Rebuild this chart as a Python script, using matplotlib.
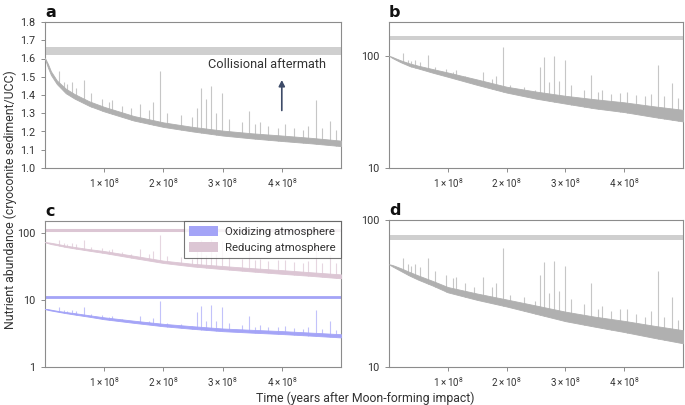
import numpy as np
import matplotlib
matplotlib.use("Agg")
import matplotlib.pyplot as plt
from matplotlib.ticker import FixedLocator, FixedFormatter, NullLocator
from matplotlib.patches import Patch

plt.rcParams['font.family'] = ['Roboto', 'DejaVu Sans']

# ---- data (time in units of 1e8 years) ----
band_t = [0, 0.05, 0.1, 0.2, 0.35, 0.5, 0.75, 1.0, 1.5, 2.0, 2.5, 3.0, 3.5, 4.0, 4.5, 5.0]

a_low = [1.598, 1.55, 1.51, 1.46, 1.41, 1.38, 1.34, 1.31, 1.26, 1.225, 1.20, 1.178, 1.162, 1.148, 1.135, 1.120]
a_high = [1.602, 1.57, 1.53, 1.48, 1.435, 1.405, 1.365, 1.335, 1.285, 1.25, 1.225, 1.205, 1.19, 1.178, 1.165, 1.150]

b_low = [100, 96, 93, 87.5, 81, 77, 70.5, 65, 55, 47, 41.5, 37.5, 34, 31.5, 28.5, 26]
b_high = [100, 98, 95.5, 91, 85.5, 81.5, 76, 71, 61.5, 53, 48, 44, 41, 38.5, 35.5, 33]

c_ox_low = [7.3, 7.1, 6.95, 6.7, 6.35, 6.05, 5.6, 5.15, 4.55, 4.05, 3.7, 3.42, 3.25, 3.1, 2.93, 2.76]
c_ox_high = [7.3, 7.3, 7.15, 6.9, 6.6, 6.35, 5.9, 5.5, 4.9, 4.4, 4.05, 3.75, 3.58, 3.43, 3.25, 3.08]
c_red_low = [72.6, 70, 68, 65.5, 61.5, 58.5, 54, 50, 42, 35.5, 31.5, 28.8, 26.5, 24.5, 22.8, 21]
c_red_high = [72.6, 72, 71, 68.5, 64.5, 61.5, 57, 53.5, 45.5, 38.5, 34.5, 32, 29.7, 27.8, 25.8, 24]

d_low = [50, 48.5, 47.3, 45, 41.8, 39.2, 35.7, 32.2, 28.6, 25.8, 23, 20.5, 18.8, 17.3, 15.8, 14.5]
d_high = [50, 49.5, 48.7, 47, 44.3, 41.9, 38.4, 35, 31.6, 28.8, 26.2, 23.8, 22, 20.6, 19.1, 17.8]

spike_t = [0.24, 0.32, 0.38, 0.45, 0.52, 0.66, 0.78, 0.97, 1.08, 1.14, 1.30, 1.45, 1.60, 1.75, 1.82,
           1.94, 2.06, 2.30, 2.48, 2.57, 2.64, 2.72, 2.80, 2.89, 2.99, 3.10, 3.32, 3.44, 3.55, 3.63,
           3.77, 3.93, 4.05, 4.20, 4.35, 4.45, 4.57, 4.68, 4.82, 4.92]
a_peak = [1.53, 1.47, 1.46, 1.47, 1.44, 1.48, 1.41, 1.38, 1.36, 1.37, 1.34, 1.33, 1.35, 1.32, 1.36,
          1.53, 1.30, 1.29, 1.28, 1.33, 1.44, 1.38, 1.45, 1.30, 1.41, 1.27, 1.25, 1.31, 1.24, 1.25,
          1.23, 1.22, 1.24, 1.22, 1.21, 1.23, 1.37, 1.22, 1.26, 1.21]
b_peak = [105, 92, 90, 92, 88, 102, 80, 76, 72, 74, 66, 62, 72, 62, 66,
          120, 55, 53, 50, 80, 97, 58, 99, 60, 92, 55, 50, 68, 48, 50,
          46, 47, 48, 45, 44, 46, 83, 44, 57, 42]
c_ox_peak = [7.9, 7.0, 6.9, 7.0, 6.8, 7.8, 6.2, 5.9, 5.6, 5.8, 5.2, 4.9, 5.7, 4.9, 5.3,
             9.6, 4.5, 4.3, 4.1, 6.6, 8.0, 4.8, 8.3, 4.9, 7.8, 4.6, 4.2, 5.8, 4.0, 4.2,
             3.9, 4.0, 4.1, 3.8, 3.7, 3.9, 7.0, 3.7, 4.8, 3.6]
c_red_peak = [79, 70, 69, 70, 68, 78, 62, 59, 56, 58, 52, 49, 57, 49, 53,
              93, 45, 43, 41, 64, 78, 47, 80, 48, 75, 44, 41, 56, 39, 41,
              38, 39, 40, 37, 36, 38, 66, 36, 46, 35]
d_peak = [55, 50, 49, 50, 48, 55, 45, 42, 40, 41, 37, 35, 41, 35, 37,
          64, 31, 30, 28, 42, 52, 32, 53, 33, 49, 29, 27, 37, 25, 26,
          24, 25, 25, 23, 22, 24, 45, 22, 30, 21]

a_range = (1.62, 1.665)
b_range = (137, 149)
d_range = (73, 79)
c_ox_level = 11.1
c_red_level = 112

xticks = [1, 2, 3, 4]
xticklabels = [r'$1\times10^{8}$', r'$2\times10^{8}$', r'$3\times10^{8}$', r'$4\times10^{8}$']

GRAY = '#b0b0b0'
SPIKE = '#c6c6c6'
BAND = '#cfcfcf'
BLUE = '#a4a4f7'
PINK = '#dcc6d4'
SPINE = '#8c8c8c'
TXT = '#333333'

plt.rcParams['mathtext.fontset'] = 'custom'
plt.rcParams['mathtext.rm'] = 'Roboto'
plt.rcParams['mathtext.it'] = 'Roboto'

fig = plt.figure(figsize=(6.85, 4.05), dpi=100)
W, H = 685, 405


def make_ax(l, r, t, b):
    return fig.add_axes([l / W, 1 - b / H, (r - l) / W, (b - t) / H])


ax_a = make_ax(45, 341, 22, 168)
ax_b = make_ax(389, 683, 22, 168)
ax_c = make_ax(45, 341, 221, 367)
ax_d = make_ax(389, 683, 220, 367)

scale = 1e8
bt = np.array(band_t) * scale
st = np.array(spike_t) * scale


def draw_series(ax, low, high, peaks, color, scolor):
    ax.fill_between(bt, low, high, color=color, lw=0.6, edgecolor=color, zorder=3)
    base = np.interp(st, bt, low)
    ax.vlines(st, base, peaks, color=scolor, lw=0.8, zorder=2)


def style(ax):
    for s in ax.spines.values():
        s.set_color(SPINE)
        s.set_linewidth(0.8)
    ax.set_xlim(0, 5e8)
    ax.xaxis.set_major_locator(FixedLocator([v * scale for v in xticks]))
    ax.xaxis.set_major_formatter(FixedFormatter(xticklabels))
    ax.xaxis.set_minor_locator(NullLocator())
    ax.tick_params(axis='both', which='major', length=3, width=0.7, color=SPINE,
                   labelcolor=TXT, labelsize=7.8, pad=4)
    ax.tick_params(axis='x', labelsize=7.0, pad=3)


# a
draw_series(ax_a, a_low, a_high, a_peak, GRAY, SPIKE)
ax_a.axhspan(*a_range, color=BAND, lw=0, zorder=1)
ax_a.set_ylim(1.0, 1.8)
style(ax_a)
ax_a.yaxis.set_major_locator(FixedLocator([1.0, 1.1, 1.2, 1.3, 1.4, 1.5, 1.6, 1.7, 1.8]))
ax_a.yaxis.set_major_formatter(FixedFormatter(['1.0', '1.1', '1.2', '1.3', '1.4', '1.5', '1.6', '1.7', '1.8']))
ax_a.text(2.75e8, 1.565, 'Collisional aftermath', fontsize=9.2, color=TXT, va='center', ha='left')
ax_a.annotate('', xy=(4.0e8, 1.497), xytext=(4.0e8, 1.30),
              arrowprops=dict(arrowstyle='-|>,head_length=0.35,head_width=0.18', color='#3d4b68', lw=1.2))


def log_style(ax, lo, hi, ticks):
    ax.set_yscale('log')
    ax.set_ylim(lo, hi)
    style(ax)
    ax.yaxis.set_major_locator(FixedLocator(ticks))
    ax.yaxis.set_major_formatter(FixedFormatter([str(t) for t in ticks]))
    ax.yaxis.set_minor_locator(NullLocator())


# b
draw_series(ax_b, b_low, b_high, b_peak, GRAY, SPIKE)
ax_b.axhspan(*b_range, color=BAND, lw=0, zorder=1)
log_style(ax_b, 10, 200, [10, 100])

# c
draw_series(ax_c, c_red_low, c_red_high, c_red_peak, PINK, '#e6d6e0')
draw_series(ax_c, c_ox_low, c_ox_high, c_ox_peak, BLUE, '#c2c2fa')
ax_c.axhline(c_red_level, color=PINK, lw=2.2, zorder=1)
ax_c.axhline(c_ox_level, color=BLUE, lw=2.0, zorder=1)
log_style(ax_c, 1, 150, [1, 10, 100])
handles = [Patch(facecolor=BLUE, edgecolor='none', label='Oxidizing atmosphere'),
           Patch(facecolor=PINK, edgecolor='none', label='Reducing atmosphere')]
leg = ax_c.legend(handles=handles, loc='upper right', bbox_to_anchor=(1.0, 1.0),
                  fontsize=8.2, frameon=True, fancybox=False, borderaxespad=0,
                  handlelength=2.6, handleheight=0.9, handletextpad=0.6,
                  borderpad=0.45, labelspacing=0.5)
leg.get_frame().set_edgecolor('#555555')
leg.get_frame().set_linewidth(0.8)
for t in leg.get_texts():
    t.set_color(TXT)

# d
draw_series(ax_d, d_low, d_high, d_peak, GRAY, SPIKE)
ax_d.axhspan(*d_range, color=BAND, lw=0, zorder=1)
log_style(ax_d, 10, 100, [10, 100])

# panel letters
for ax, lab in [(ax_a, 'a'), (ax_b, 'b'), (ax_c, 'c'), (ax_d, 'd')]:
    ax.text(0.0, 1.015, lab, transform=ax.transAxes, fontsize=11.5, fontweight='heavy',
            ha='left', va='bottom', color='#111111', family=['DejaVu Sans'])

fig.text(10 / W, 1 - 200 / H, 'Nutrient abundance (cryoconite sediment/UCC)', rotation=90,
         ha='center', va='center', fontsize=8.8, color=TXT)
fig.text(365 / W, 1 - 398.5 / H, 'Time (years after Moon-forming impact)',
         ha='center', va='center', fontsize=8.8, color=TXT)

fig.savefig('out.png', dpi=100)
